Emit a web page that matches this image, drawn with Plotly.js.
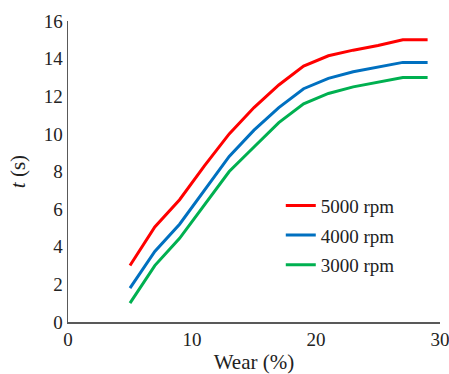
<!DOCTYPE html>
<html><head><meta charset="utf-8">
<script src="https://cdn.plot.ly/plotly-3.0.1.min.js"></script>
<style>body{margin:0;padding:0;background:#fff}#chart{width:449px;height:374px}</style>
</head><body><div id="chart"></div>
<script>
const wear = [5, 7, 9, 11, 13, 15, 17, 19, 21, 23, 25, 27, 29];
const t5000 = [3.0, 5.05, 6.5, 8.3, 10.0, 11.4, 12.6, 13.6, 14.15, 14.45, 14.7, 15.0, 15.0];
const t4000 = [1.8, 3.75, 5.2, 7.0, 8.8, 10.2, 11.4, 12.4, 12.95, 13.3, 13.55, 13.8, 13.8];
const t3000 = [1.0, 3.0, 4.45, 6.2, 8.0, 9.3, 10.6, 11.6, 12.15, 12.5, 12.75, 13.0, 13.0];
const seriesNames = ['5000 rpm', '4000 rpm', '3000 rpm'];
const seriesColors = ['#FF0000', '#0070C0', '#00B050'];
const ys = [t5000, t4000, t3000];

const font = {family: '"Liberation Serif", "Times New Roman", serif', size: 19, color: '#222'};
const titleFont = {family: '"Liberation Serif", "Times New Roman", serif', size: 21, color: '#222'};
const traces = ys.map((y, i) => ({
  x: wear, y: y, type: 'scatter', mode: 'lines', name: seriesNames[i],
  legendgroup: 'g' + i,
  line: {color: seriesColors[i], width: 3}
}));

const layout = {
  width: 449, height: 374,
  margin: {l: 68, r: 9, t: 21, b: 52},
  paper_bgcolor: '#fff', plot_bgcolor: '#fff',
  font: font,
  showlegend: true,
  legend: {x: 0.572, y: 0.45, xanchor: 'left', yanchor: 'top', font: font,
           tracegroupgap: 2, bgcolor: 'rgba(0,0,0,0)'},
  xaxis: {range: [0, 30], dtick: 10, showgrid: false, zeroline: false,
          showline: true, linecolor: '#595959', linewidth: 1.5, ticks: '',
          tickfont: font, ticklabeloverflow: 'allow',
          title: {text: 'Wear (%)', font: titleFont, standoff: 9}},
  yaxis: {range: [0, 16], dtick: 2, showgrid: false, zeroline: false,
          showline: true, linecolor: '#595959', linewidth: 1.5, ticks: '',
          tickfont: font,
          title: {text: '<i>t</i> (s)', font: titleFont, standoff: 12}}
};
Plotly.newPlot('chart', traces, layout, {displayModeBar: false, staticPlot: true});
</script></body></html>
